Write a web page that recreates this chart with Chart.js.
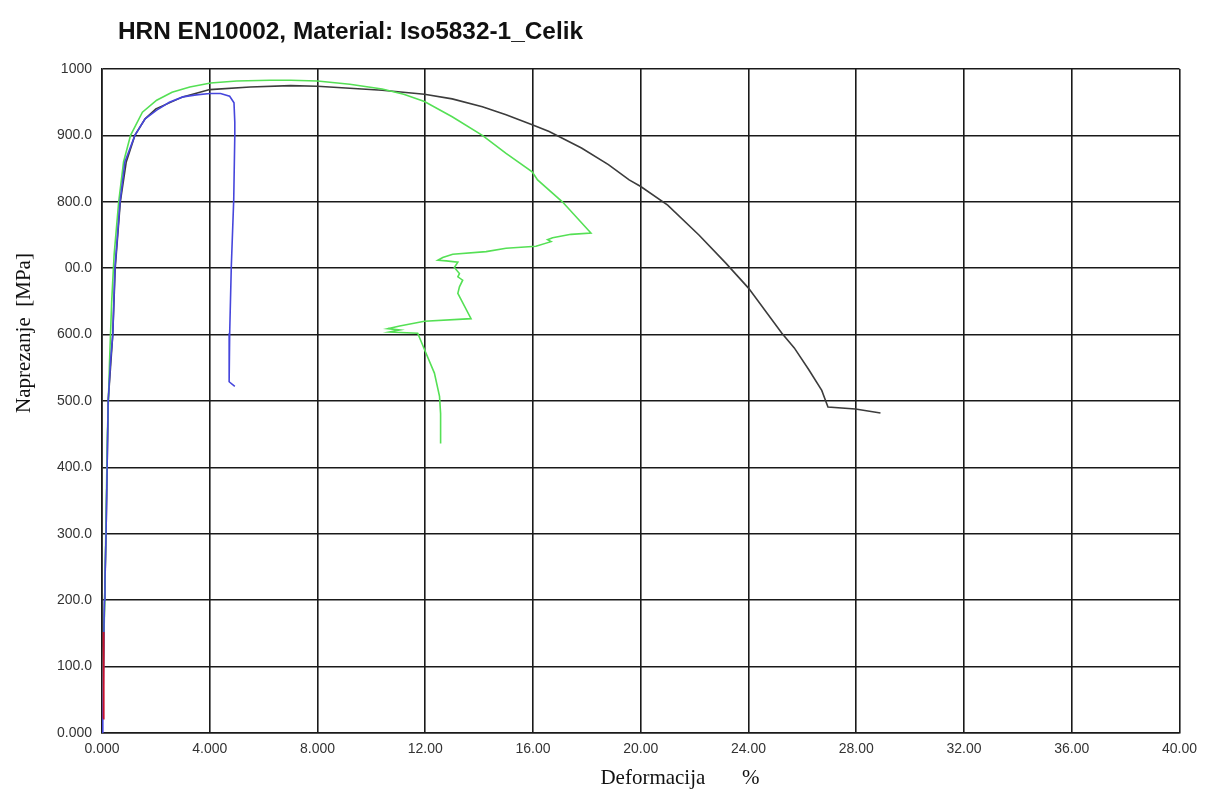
<!DOCTYPE html>
<html>
<head>
<meta charset="utf-8">
<script src="https://cdn.jsdelivr.net/npm/chart.js@4/dist/chart.umd.min.js"></script>
<style>
html,body{margin:0;padding:0;background:#fff;}
#wrap{width:1205px;height:790px;position:relative;}
</style>
</head>
<body>
<div id="wrap"><canvas id="c" width="1205" height="790"></canvas></div>
<script>
// ---- data (strain %, stress MPa) ----
const chartTitle = "HRN EN10002, Material: Iso5832-1_Celik";
const xAxisTitle = "Deformacija       %";
const yAxisTitle = "Naprezanje  [MPa]";

const xTickValues = [0, 4, 8, 12, 16, 20, 24, 28, 32, 36, 40];
const xTickLabels = ["0.000", "4.000", "8.000", "12.00", "16.00", "20.00", "24.00", "28.00", "32.00", "36.00", "40.00"];
const yTickValues = [0, 100, 200, 300, 400, 500, 600, 700, 800, 900, 1000];
const yTickLabels = ["0.000", "100.0", "200.0", "300.0", "400.0", "500.0", "600.0", "00.0", "800.0", "900.0", "1000"];

const blackStrain = [0, 0.07, 0.15, 0.23, 0.40, 0.49, 0.68, 0.90, 1.22, 1.6, 2.0, 3.0, 4.0, 5.5, 7.0, 8.0, 9.2, 10.4, 11.97, 13.0, 14.12, 15.0, 15.97, 16.6, 17.8, 18.8, 19.57, 20.0, 21.0, 22.16, 23.15, 24.0, 25.24, 25.7, 26.24, 26.72, 26.95, 27.97, 28.9];
const blackStress = [0, 150, 300, 500, 600, 700, 800, 860, 900, 925, 940, 958, 969, 973, 975, 974, 971, 968, 962, 955, 943, 931, 916, 906, 881, 856, 833, 823, 795, 750, 708, 670, 602, 580, 547, 516, 491, 488, 482];

const greenStrain = [0, 0.10, 0.20, 0.28, 0.36, 0.45, 0.62, 0.80, 1.06, 1.5, 2.03, 2.6, 3.26, 4.03, 5.0, 6.23, 7.0, 8.0, 9.2, 10.4, 11.2, 11.97, 13.0, 14.12, 15.0, 15.97, 16.17, 17.09, 18.15, 17.41, 16.73, 16.54, 16.67, 16.11, 15.0, 14.26, 13.02, 12.65, 12.47, 12.78, 13.21, 13.08, 13.27, 13.21, 13.39, 13.27, 13.21, 13.70, 11.97, 11.05, 10.61, 11.05, 10.67, 11.72, 12.03, 12.34, 12.53, 12.57, 12.57];
const greenStress = [0, 200, 450, 560, 650, 720, 800, 860, 900, 935, 953, 965, 973, 979, 982, 983, 983, 982, 977, 970, 962, 951, 928, 900, 873, 845, 833, 800, 753, 751, 746, 743, 740, 733, 730, 725, 721, 716, 712, 711, 709, 701, 692, 687, 682, 672, 662, 624, 620, 613, 609, 607, 604, 602, 572, 542, 507, 481, 436];

const blueStrain = [0, 0.03, 0.07, 0.09, 0.11, 0.15, 0.19, 0.23, 0.32, 0.40, 0.48, 0.67, 0.85, 1.22, 1.6, 2.03, 2.5, 3.0, 3.5, 4.0, 4.4, 4.74, 4.9, 4.93, 4.93, 4.89, 4.8, 4.74, 4.72, 4.93];
const blueStress = [0, 20, 150, 200, 230, 300, 400, 500, 562, 600, 700, 800, 860, 900, 925, 938, 950, 958, 961, 963, 963, 959, 949, 920, 900, 803, 702, 602, 529, 522];

const redStrain = [0.04, 0.06];
const redStress = [22, 152];

function pts(xs, ys) { return xs.map((x, i) => ({ x: x, y: ys[i] })); }

const GRID = '#1a1a1a';
const tickFont = { family: '"Liberation Sans", Arial, sans-serif', size: 14 };

const textPlugin = {
  id: 'texts',
  afterDraw(chart) {
    const ctx = chart.ctx;
    ctx.save();
    ctx.fillStyle = '#111';
    ctx.font = 'bold 23px "Liberation Sans", Arial, sans-serif';
    ctx.textAlign = 'left';
    ctx.textBaseline = 'middle';
    const w = ctx.measureText(chartTitle).width;
    ctx.save();
    ctx.translate(118, 33);
    ctx.scale(465 / w, 1);
    ctx.fillText(chartTitle, 0, 0);
    ctx.restore();

    ctx.font = '21px "Liberation Serif", "Times New Roman", serif';
    ctx.textAlign = 'center';
    ctx.fillText(xAxisTitle, 680, 778);

    ctx.translate(24, 333);
    ctx.rotate(-Math.PI / 2);
    ctx.fillText(yAxisTitle, 0, 0);
    ctx.restore();
  }
};

new Chart(document.getElementById('c'), {
  type: 'scatter',
  data: {
    datasets: [
      { label: 'red', data: pts(redStrain, redStress), borderColor: '#c8102e', borderWidth: 2, order: 0 },
      { label: 'blue', data: pts(blueStrain, blueStress), borderColor: '#4646dc', borderWidth: 1.6, order: 1 },
      { label: 'green', data: pts(greenStrain, greenStress), borderColor: '#55e055', borderWidth: 1.6, order: 2 },
      { label: 'black', data: pts(blackStrain, blackStress), borderColor: '#3c3c3c', borderWidth: 1.6, order: 3 }
    ].map(d => Object.assign(d, { showLine: true, pointRadius: 0, pointHoverRadius: 0, tension: 0, fill: false }))
  },
  options: {
    responsive: false,
    animation: false,
    events: [],
    layout: { padding: { left: 0, right: 24, top: 69, bottom: 17 } },
    plugins: { legend: { display: false }, tooltip: { enabled: false }, title: { display: false } },
    scales: {
      x: {
        type: 'linear', min: 0, max: 40,
        afterBuildTicks(scale) { scale.ticks = xTickValues.map(v => ({ value: v })); },
        afterFit(scale) { scale.height = 40; },
        grid: { color: GRID, lineWidth: 1.6, drawTicks: false },
        border: { color: GRID, width: 1.6 },
        ticks: {
          color: '#333', font: tickFont, padding: 8, maxRotation: 0, autoSkip: false,
          callback(v) { const i = xTickValues.indexOf(v); return i >= 0 ? xTickLabels[i] : ''; }
        }
      },
      y: {
        type: 'linear', min: 0, max: 1000,
        afterBuildTicks(scale) { scale.ticks = yTickValues.map(v => ({ value: v })); },
        afterFit(scale) { scale.width = 102; },
        grid: { color: GRID, lineWidth: 1.6, drawTicks: false },
        border: { color: GRID, width: 1.6 },
        ticks: {
          color: '#333', font: tickFont, padding: 10, autoSkip: false,
          callback(v) { const i = yTickValues.indexOf(v); return i >= 0 ? yTickLabels[i] : ''; }
        }
      }
    }
  },
  plugins: [textPlugin]
});
</script>
</body>
</html>
